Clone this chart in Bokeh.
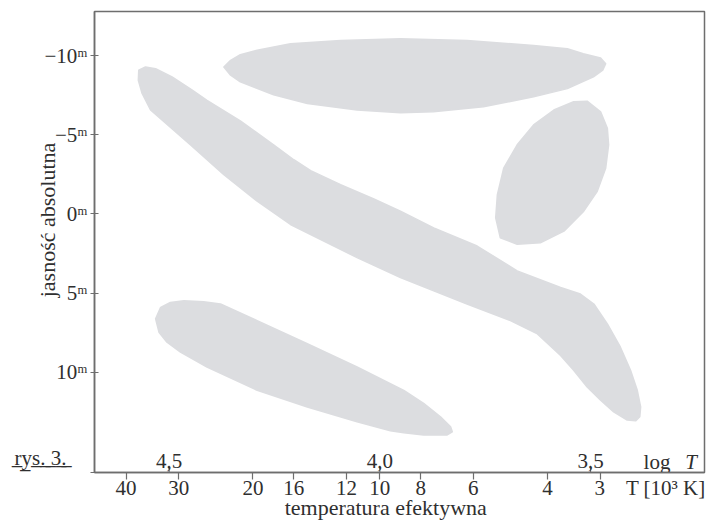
import numpy as np
from bokeh.plotting import figure
from bokeh.models import Range1d, FixedTicker, CustomJSTickFormatter
from bokeh.core.properties import value
from bokeh.embed import file_html
from bokeh.resources import INLINE

# ---- data ----
T_ticks_kK = [40, 30, 20, 16, 12, 10, 8, 6, 4, 3]          # T [10^3 K]
logT_ticks = [4.5, 4.0, 3.5]
logT_labels = ["4,5", "4,0", "3,5"]
mag_ticks = [-10, -5, 0, 5, 10]

# regions of the HR diagram, outline in (log T, absolute magnitude)
supergiants_logT = [4.370, 4.354, 4.331, 4.291, 4.212, 4.093, 3.951, 3.793, 3.635, 3.555,
                    3.517, 3.476, 3.464, 3.471, 3.493, 3.555, 3.635, 3.754, 3.873, 3.951,
                    4.054, 4.172, 4.252, 4.331, 4.354]
supergiants_mag = [-9.28, -9.70, -10.05, -10.33, -10.74, -10.95, -11.06, -10.95, -10.64, -10.43,
                   -10.11, -9.84, -9.48, -9.07, -8.65, -7.91, -7.39, -6.77, -6.45, -6.39,
                   -6.56, -6.97, -7.52, -8.34, -8.76]

giants_logT = [3.508, 3.476, 3.460, 3.457, 3.464, 3.484, 3.516, 3.563, 3.619, 3.674,
               3.714, 3.725, 3.721, 3.706, 3.674, 3.635, 3.587, 3.540]
giants_mag = [-7.12, -6.45, -5.40, -4.36, -2.89, -1.43, -0.17, 1.09, 1.82, 1.92,
              1.51, 0.25, -1.22, -2.89, -4.36, -5.62, -6.56, -7.08]

main_seq_logT = [4.573, 4.572, 4.556, 4.532, 4.493, 4.445, 4.410, 4.331, 4.252, 4.204,
                 4.164, 4.093, 4.014, 3.951, 3.872, 3.769, 3.674, 3.571, 3.524, 3.492,
                 3.460, 3.429, 3.405, 3.389, 3.381, 3.383, 3.393, 3.413, 3.445, 3.476,
                 3.508, 3.540, 3.571, 3.626, 3.690, 3.793, 3.872, 3.951, 4.054, 4.133,
                 4.212, 4.291, 4.370, 4.449, 4.544, 4.564]
main_seq_mag = [-8.44, -9.07, -9.28, -9.17, -8.65, -7.81, -7.17, -5.87, -4.36, -3.42,
                -2.73, -1.85, -0.94, -0.17, 0.88, 2.03, 3.60, 4.65, 5.06, 5.69,
                6.95, 8.42, 9.88, 11.14, 12.19, 12.81, 13.07, 13.02, 12.50, 11.76,
                10.93, 9.88, 8.94, 7.58, 6.74, 5.69, 4.86, 4.02, 2.76, 1.71,
                0.67, -0.80, -2.47, -4.36, -6.56, -7.60]

dwarfs_logT = [4.532, 4.520, 4.497, 4.465, 4.418, 4.378, 4.291, 4.172, 4.054, 3.943,
               3.896, 3.856, 3.832, 3.828, 3.840, 3.896, 3.943, 3.975, 4.054, 4.172,
               4.291, 4.410, 4.473, 4.505, 4.524]
dwarfs_mag = [6.63, 5.90, 5.59, 5.48, 5.55, 5.69, 6.74, 8.20, 9.67, 11.14,
              11.97, 12.81, 13.44, 13.76, 13.96, 13.96, 13.82, 13.69, 13.13, 12.19,
              11.14, 9.67, 8.73, 8.10, 7.47]

x_title = "temperatura efektywna"
y_title = "jasność absolutna"
T_unit = "T [10\u00b3 K]"
fig_label = "rys. 3."

# ---- figure ----
SERIF = "Liberation Serif"
TXT = "#2f2f2f"
LINE = "#6e6e6e"
NB = "\u00a0"

x_lo, x_hi = 4.677, 3.2295
y_bottom, y_top = 16.33, -12.78

p = figure(width=712, height=522, output_backend="svg", toolbar_location=None,
           x_range=Range1d(x_lo, x_hi), y_range=Range1d(y_bottom, y_top),
           min_border_left=94, min_border_right=8, min_border_top=11, min_border_bottom=49)
p.grid.visible = False
p.background_fill_color = "white"
p.border_fill_color = "white"
p.outline_line_color = LINE
p.outline_line_width = 1.5

p.patches(xs=[supergiants_logT, giants_logT, main_seq_logT, dwarfs_logT],
          ys=[supergiants_mag, giants_mag, main_seq_mag, dwarfs_mag],
          fill_color="#dcdde0", line_color="#dcdde0", line_width=1.5, line_join="round")

# bottom axis: T in 10^3 K at log positions; unit text rides on the last label
unit_label = NB * 19 + "3" + NB * 4 + T_unit
xa = p.xaxis[0]
xa.ticker = FixedTicker(ticks=[float(np.log10(t * 1000.0)) for t in T_ticks_kK])
xa.formatter = CustomJSTickFormatter(
    args=dict(unit_label=unit_label),
    code="const t = Math.round(Math.pow(10, tick) / 1000); return t == 3 ? unit_label : String(t);")
xa.major_tick_out = 7
xa.major_tick_in = 0
xa.minor_tick_line_color = None
xa.axis_line_color = LINE
xa.axis_line_width = 1.5
xa.major_tick_line_color = LINE
xa.major_tick_line_width = 1.2
xa.major_label_text_font = SERIF
xa.major_label_text_font_size = "21px"
xa.major_label_text_color = TXT
xa.major_label_standoff = -4
xa.axis_label = x_title + NB * 5
xa.axis_label_text_font = SERIF
xa.axis_label_text_font_style = "normal"
xa.axis_label_text_font_size = "22px"
xa.axis_label_text_color = TXT
xa.axis_label_standoff = -8

# left axis: magnitudes; figure label rides on an extra tick at the bottom corner
rys = "".join(ch + "\u0332" for ch in fig_label)
ya = p.yaxis[0]
ya.ticker = FixedTicker(ticks=mag_ticks + [16.3])
ya.formatter = CustomJSTickFormatter(
    args=dict(rys=rys + NB * 4 + "\n" + NB),
    code="if (tick > 15) { return rys; } return (tick < 0 ? '\u2212' + Math.abs(tick) : String(tick)) + '\u1d50';")
ya.major_tick_out = 4
ya.major_tick_in = 4
ya.minor_tick_line_color = None
ya.axis_line_color = LINE
ya.axis_line_width = 1.5
ya.major_tick_line_color = LINE
ya.major_tick_line_width = 1.2
ya.major_label_text_font = SERIF
ya.major_label_text_font_size = "21px"
ya.major_label_text_color = TXT
ya.major_label_standoff = 3
ya.axis_label = NB * 8 + y_title
ya.axis_label_text_font = SERIF
ya.axis_label_text_font_style = "normal"
ya.axis_label_text_font_size = "22px"
ya.axis_label_text_color = TXT
ya.axis_label_standoff = -48

# log T ticks inside the frame
p.segment(x0=logT_ticks, y0=[y_bottom] * len(logT_ticks), x1=logT_ticks,
          y1=[y_bottom - 0.42] * len(logT_ticks), line_color=LINE, line_width=1.2)
p.text(x=logT_ticks, y=[15.6] * len(logT_ticks), text=logT_labels,
       text_align="center", text_baseline="alphabetic",
       text_font=value(SERIF), text_font_size="21px", text_color=TXT)
p.text(x=[3.374], y=[15.64], text=["log"], text_align="left", text_baseline="alphabetic",
       text_font=value(SERIF), text_font_size="21px", text_color=TXT)
p.text(x=[3.275], y=[15.64], text=["T"], text_align="left", text_baseline="alphabetic",
       text_font=value(SERIF), text_font_size="21px", text_font_style="italic", text_color=TXT)

open("out.html", "w").write(file_html(p, INLINE))
